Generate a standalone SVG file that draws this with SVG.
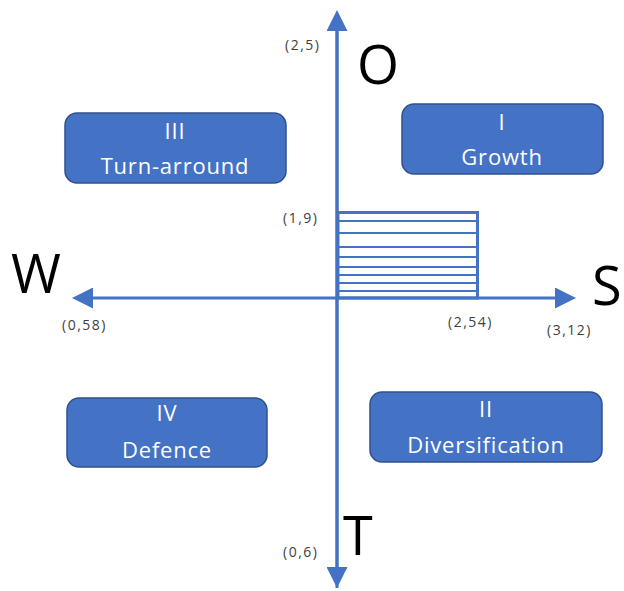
<svg xmlns="http://www.w3.org/2000/svg" width="624" height="591" viewBox="0 0 624 591">
<style>
.box{fill:#4472C4;stroke:#2F528F;stroke-width:1.5}
.bt{font-family:"Open Sans",sans-serif;font-size:22px;letter-spacing:0.8px;fill:#fff;text-anchor:middle}
.big{font-family:"Open Sans",sans-serif;font-size:54px;fill:#000}
.sm{font-family:"Open Sans",sans-serif;font-size:14px;letter-spacing:1.5px;fill:#404040}
.ax{stroke:#4472C4;stroke-width:3;fill:none}
.hl{stroke:#4472C4;stroke-width:2}
</style>
<defs>
<marker id="ah" markerWidth="7" markerHeight="7" refX="1" refY="3.5" orient="auto" markerUnits="strokeWidth">
<path d="M0,0 L7,3.5 L0,7 Z" fill="#4472C4"/>
</marker>
</defs>
<g id="connectors">
<line class="ax" x1="337" y1="588" x2="337" y2="28" marker-end="url(#ah)"/>
<line class="ax" x1="337" y1="20" x2="337" y2="570" marker-end="url(#ah)"/>
<line class="ax" x1="337" y1="298" x2="90" y2="298" marker-end="url(#ah)"/>
<line class="ax" x1="337" y1="298" x2="558" y2="298" marker-end="url(#ah)"/>
</g>
<g id="rect">
<rect x="338" y="212.5" width="139.5" height="85.5" fill="none" stroke="#4472C4" stroke-width="3"/>
<line class="hl" x1="338" y1="221" x2="476" y2="221"/>
<line class="hl" x1="338" y1="233" x2="476" y2="233"/>
<line class="hl" x1="338" y1="247" x2="476" y2="247"/>
<line class="hl" x1="338" y1="257" x2="476" y2="257"/>
<line class="hl" x1="338" y1="267" x2="476" y2="267"/>
<line class="hl" x1="338" y1="275" x2="476" y2="275"/>
<line class="hl" x1="338" y1="283" x2="476" y2="283"/>
<line class="hl" x1="338" y1="291" x2="476" y2="291"/>
</g>
<g id="labels">
<text class="big" x="357" y="84">O</text>
<text class="big" x="11" y="293">W</text>
<text class="big" x="592" y="305">S</text>
<text class="big" x="343" y="555">T</text>
<text class="sm" x="285" y="50">(2,5)</text>
<text class="sm" x="283" y="223">(1,9)</text>
<text class="sm" x="62" y="330">(0,58)</text>
<text class="sm" x="448" y="327">(2,54)</text>
<text class="sm" x="547" y="335">(3,12)</text>
<text class="sm" x="283" y="557">(0,6)</text>
</g>
<g id="n3">
<rect class="box" x="65" y="113" width="221" height="70" rx="12"/>
<text class="bt" x="175" y="139">III</text>
<text class="bt" x="175" y="174">Turn-arround</text>
</g>
<g id="n1">
<rect class="box" x="402" y="104" width="201" height="70" rx="12"/>
<text class="bt" x="502" y="130">I</text>
<text class="bt" x="502" y="165">Growth</text>
</g>
<g id="n4">
<rect class="box" x="67" y="398" width="200" height="69" rx="12"/>
<text class="bt" x="167" y="421">IV</text>
<text class="bt" x="167" y="458">Defence</text>
</g>
<g id="n2">
<rect class="box" x="370" y="392" width="232" height="70" rx="12"/>
<text class="bt" x="486" y="417">II</text>
<text class="bt" x="486" y="453">Diversification</text>
</g>
</svg>
